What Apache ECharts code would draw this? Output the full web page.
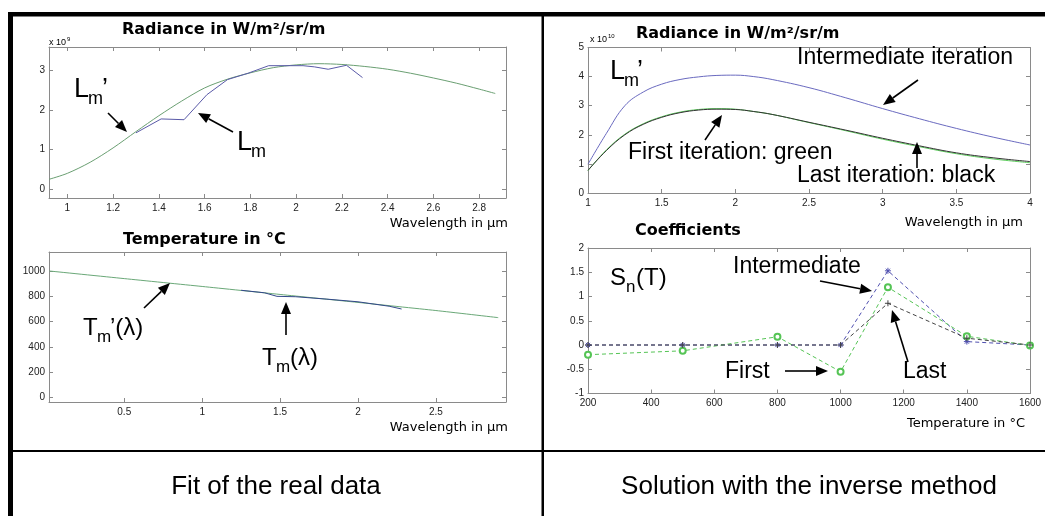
<!DOCTYPE html>
<html>
<head>
<meta charset="utf-8">
<script src="https://cdn.jsdelivr.net/npm/echarts@6/dist/echarts.min.js"></script>
<style>html,body{margin:0;padding:0;background:#fff}#main{width:1045px;height:516px}</style>
</head>
<body>
<div id="main"></div>
<script>
// --- top left: radiance fit (x 10^9)
var lamFit = [0.92, 1.0, 1.1, 1.2, 1.3, 1.4, 1.5, 1.6, 1.7, 1.8, 1.9, 2.0, 2.1, 2.2, 2.3, 2.4, 2.5, 2.6, 2.7, 2.8, 2.87];
var radFit = [0.25, 0.40, 0.68, 1.04, 1.45, 1.85, 2.22, 2.55, 2.77, 2.93, 3.06, 3.13, 3.16, 3.14, 3.09, 3.02, 2.92, 2.80, 2.67, 2.52, 2.41];
var lamMeas = [1.30, 1.41, 1.51, 1.61, 1.70, 1.79, 1.88, 2.03, 2.08, 2.14, 2.22, 2.29];
var radMeas = [1.42, 1.77, 1.75, 2.38, 2.76, 2.92, 3.11, 3.11, 3.08, 3.02, 3.12, 2.81];

// --- bottom left: temperature
var lamT = [0.02, 0.5, 1.0, 1.5, 2.0, 2.5, 2.9];
var tempFit = [1000, 940, 878, 815, 752, 688, 632];
var lamTm = [1.25, 1.40, 1.48, 1.60, 1.80, 2.00, 2.20, 2.28];
var tempMeas = [848, 828, 800, 797, 778, 757, 722, 700];

// --- top right: iterations (x 10^10)
var lamIt = [1.0, 1.125, 1.25, 1.375, 1.5, 1.625, 1.75, 1.875, 2.0, 2.125, 2.25, 2.5, 2.75, 3.0, 3.25, 3.5, 3.75, 4.0];
var radInter = [0.99, 2.05, 3.0, 3.47, 3.74, 3.90, 3.99, 4.04, 4.05, 4.00, 3.90, 3.62, 3.27, 2.90, 2.55, 2.22, 1.92, 1.65];
var radFirst = [0.77, 1.48, 2.02, 2.38, 2.62, 2.78, 2.87, 2.90, 2.88, 2.80, 2.70, 2.42, 2.14, 1.85, 1.59, 1.35, 1.17, 1.04];
var radLast = [0.78, 1.46, 2.00, 2.36, 2.60, 2.76, 2.85, 2.88, 2.87, 2.80, 2.70, 2.43, 2.16, 1.88, 1.62, 1.38, 1.21, 1.08];

// --- bottom right: coefficients
var temps = [200, 500, 800, 1000, 1150, 1400, 1600];
var sFirst = [-0.2, -0.12, 0.17, -0.55, 1.19, 0.18, -0.01];
var sInter = [0, 0, 0, 0, 1.53, 0.07, 0];
var sLast = [0, 0, 0, 0, 0.86, 0.14, 0];

// tick values
var ticksX0 = [1, 1.2, 1.4, 1.6, 1.8, 2, 2.2, 2.4, 2.6, 2.8];
var ticksY0 = [0, 1, 2, 3];
var ticksX1 = [0.5, 1, 1.5, 2, 2.5];
var ticksY1 = [0, 200, 400, 600, 800, 1000];
var ticksX2 = [1, 1.5, 2, 2.5, 3, 3.5, 4];
var ticksY2 = [0, 1, 2, 3, 4, 5];
var ticksX3 = [200, 400, 600, 800, 1000, 1200, 1400, 1600];
var ticksY3 = [-1, -0.5, 0, 0.5, 1, 1.5, 2];

var AXC = '#8a8a8a';

function zip(xs, ys) {
    return xs.map(function (x, i) { return [x, ys[i]]; });
}

function axisPair(kind, grid, min, max, ticks) {
    var base = {
        type: 'value', gridIndex: grid, min: min, max: max,
        axisLine: { show: true, onZero: false, lineStyle: { color: AXC, width: 1 } },
        axisTick: { show: true, inside: true, length: 4, customValues: ticks, lineStyle: { color: AXC } },
        splitLine: { show: false }
    };
    var a = Object.assign({}, base, {
        position: kind === 'x' ? 'bottom' : 'left',
        axisLabel: {
            show: true, customValues: ticks, margin: kind === 'x' ? 5 : 4,
            color: '#222', fontSize: 10, fontFamily: 'Liberation Sans',
            formatter: function (v) { return String(v); }
        }
    });
    var b = Object.assign({}, base, {
        position: kind === 'x' ? 'top' : 'right',
        axisLabel: { show: false }
    });
    return [a, b];
}

function txt(x, y, s, size, opt) {
    opt = opt || {};
    var al = opt.align || 'left';
    return {
        type: 'text', x: x, y: y, z: 10,
        style: {
            text: s, fontSize: size, fontFamily: opt.font || 'Liberation Sans',
            fontWeight: opt.bold ? 'bold' : 'normal', fill: '#000',
            align: al, textAlign: al, verticalAlign: 'middle', textVerticalAlign: 'middle'
        }
    };
}

function arrow(x1, y1, x2, y2) {
    var ang = Math.atan2(y2 - y1, x2 - x1);
    var L = 12, W = 5;
    var bx = x2 - L * Math.cos(ang), by = y2 - L * Math.sin(ang);
    var px = -Math.sin(ang) * W, py = Math.cos(ang) * W;
    return [
        { type: 'line', z: 10, shape: { x1: x1, y1: y1, x2: bx, y2: by }, style: { stroke: '#000', lineWidth: 1.6 } },
        { type: 'polygon', z: 10, shape: { points: [[x2, y2], [bx + px, by + py], [bx - px, by - py]] }, style: { fill: '#000' } }
    ];
}

function box(x, y, w, h) {
    return { type: 'rect', z: 10, shape: { x: x, y: y, width: w, height: h }, style: { fill: '#000' } };
}

var xAxes = [].concat(
    axisPair('x', 0, 0.92, 2.917, ticksX0),
    axisPair('x', 1, 0.017, 2.95, ticksX1),
    axisPair('x', 2, 1, 4, ticksX2),
    axisPair('x', 3, 200, 1600, ticksX3)
);
var yAxes = [].concat(
    axisPair('y', 0, -0.22, 3.58, ticksY0),
    axisPair('y', 1, -34, 1150, ticksY1),
    axisPair('y', 2, 0, 5, ticksY2),
    axisPair('y', 3, -1, 2, ticksY3)
);

function curve(g, data, color, smooth) {
    return {
        type: 'line', xAxisIndex: 2 * g, yAxisIndex: 2 * g, data: data,
        showSymbol: false, smooth: smooth, silent: true,
        lineStyle: { color: color, width: 1 }, itemStyle: { color: color }
    };
}

function dashed(data, color, symbol, size) {
    return {
        type: 'line', xAxisIndex: 6, yAxisIndex: 6, data: data,
        symbol: symbol, symbolSize: size, showSymbol: true, silent: true,
        lineStyle: { color: color, width: 1, type: [4, 3] },
        itemStyle: { color: color, borderColor: color, borderWidth: 1 }
    };
}

var STAR = 'path://M5,0L5,10M0,5L10,5M1.5,1.5L8.5,8.5M1.5,8.5L8.5,1.5';
var PLUS = 'path://M5,0L5,10M0,5L10,5';

var chartDom = document.getElementById('main');
var myChart = echarts.init(chartDom);
var option = {
    animation: false,
    backgroundColor: '#fff',
    grid: [
        { left: 49, top: 47, width: 457, height: 151 },
        { left: 49, top: 252, width: 457, height: 150 },
        { left: 588, top: 47.5, width: 442, height: 145.5 },
        { left: 588, top: 248, width: 442, height: 145.5 }
    ],
    xAxis: xAxes,
    yAxis: yAxes,
    series: [
        curve(0, zip(lamFit, radFit), '#6a9f72', 0.3),
        curve(0, zip(lamMeas, radMeas), '#5a5aa8', false),
        curve(1, zip(lamT, tempFit), '#6aa878', 0.2),
        curve(1, zip(lamTm, tempMeas), '#34488a', false),
        curve(2, zip(lamIt, radInter), '#6a6ac0', 0.4),
        curve(2, zip(lamIt, radFirst), '#5ccc5c', 0.4),
        curve(2, zip(lamIt, radLast), '#333333', 0.4),
        dashed(zip(temps, sInter), '#5050b0', STAR, 6),
        dashed(zip(temps, sFirst), '#55c455', 'emptyCircle', 6),
        dashed(zip(temps, sLast), '#444444', PLUS, 6)
    ],
    graphic: [].concat(
        // frame
        [box(8, 12, 1037, 4.5), box(8, 12, 5, 504), box(541.5, 12, 2.5, 504), box(8, 450, 1037, 2)],
        // top left
        [
            txt(122, 30, 'Radiance in W/m²/sr/m', 16, { bold: true, font: 'DejaVu Sans' }),
            txt(49, 43, 'x 10', 9),
            txt(67, 39, '9', 6),
            txt(74, 90, 'L', 27),
            txt(88, 99, 'm', 18),
            txt(102, 90, '’', 27),
            txt(237, 143, 'L', 27),
            txt(251, 152, 'm', 18),
            txt(508, 224, 'Wavelength in µm', 13, { align: 'right', font: 'DejaVu Sans' })
        ],
        arrow(108, 113, 127, 132),
        arrow(233, 132, 198, 113),
        // bottom left
        [
            txt(123, 240, 'Temperature in °C', 16, { bold: true, font: 'DejaVu Sans' }),
            txt(83, 328, 'T', 24),
            txt(97, 337, 'm', 17),
            txt(110, 328, '’(λ)', 24),
            txt(262, 358, 'T', 24),
            txt(276, 367, 'm', 17),
            txt(290, 358, '(λ)', 24),
            txt(508, 428, 'Wavelength in µm', 13, { align: 'right', font: 'DejaVu Sans' })
        ],
        arrow(144, 308, 170, 283),
        arrow(286, 335, 286, 302),
        // top right
        [
            txt(636, 34, 'Radiance in W/m²/sr/m', 16, { bold: true, font: 'DejaVu Sans' }),
            txt(590, 40, 'x 10', 9),
            txt(608, 36, '10', 6),
            txt(610, 72, 'L', 27),
            txt(624, 81, 'm', 18),
            txt(637, 72, '’', 27),
            txt(797, 57.5, 'Intermediate iteration', 23),
            txt(628, 152.5, 'First iteration: green', 23),
            txt(797, 176, 'Last iteration: black', 23),
            txt(1023, 223, 'Wavelength in µm', 13, { align: 'right', font: 'DejaVu Sans' })
        ],
        arrow(918, 80, 883, 105),
        arrow(705, 140, 722, 115),
        arrow(917, 168, 917, 142),
        // bottom right
        [
            txt(635, 231, 'Coefficients', 16, { bold: true, font: 'DejaVu Sans' }),
            txt(610, 278.5, 'S', 24),
            txt(626, 287, 'n', 17),
            txt(636, 278.5, '(T)', 24),
            txt(733, 266.5, 'Intermediate', 23),
            txt(725, 371.5, 'First', 23),
            txt(903, 371.5, 'Last', 23),
            txt(1025, 424, 'Temperature in °C', 13, { align: 'right', font: 'DejaVu Sans' })
        ],
        arrow(820, 281, 872, 291),
        arrow(785, 371, 828, 371),
        arrow(908, 362, 892, 310),
        // bottom captions
        [
            txt(276, 487, 'Fit of the real data', 26, { align: 'center' }),
            txt(809, 487, 'Solution with the inverse method', 26, { align: 'center' })
        ]
    )
};
option && myChart.setOption(option);
</script>
</body>
</html>
